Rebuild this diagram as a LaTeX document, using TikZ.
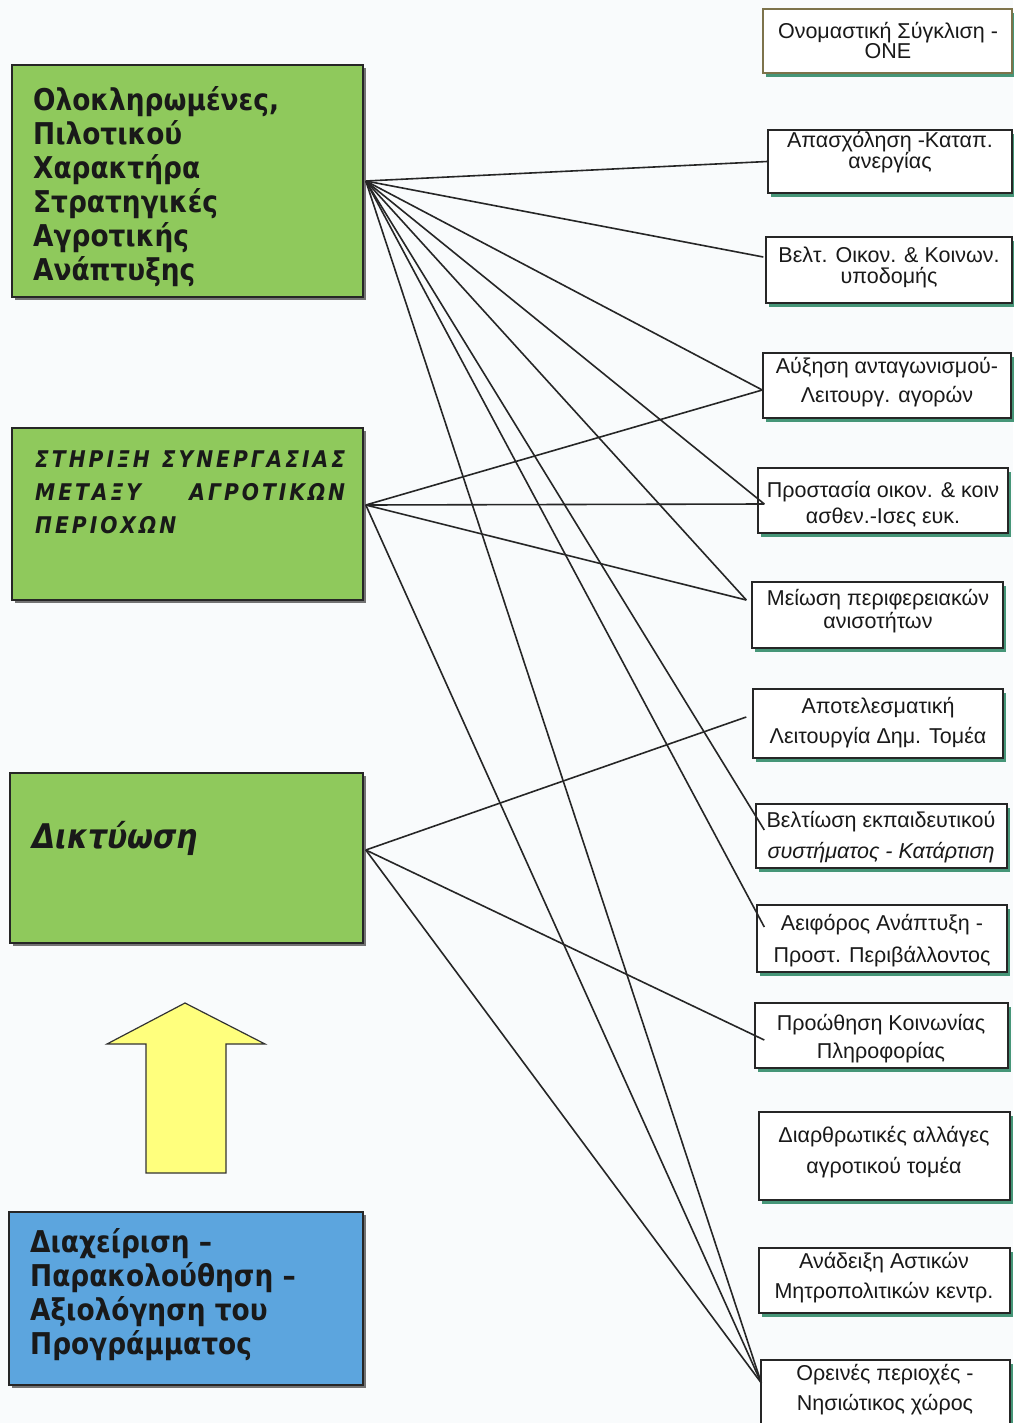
\documentclass[tikz,border=0pt]{standalone}
\usepackage{fontspec}
\setmainfont{Liberation Sans}
\newfontfamily\rfont{Liberation Sans}
\newfontfamily\lfont{DejaVu Sans}[FakeStretch=0.88]
\newfontfamily\lcfont{DejaVu Sans}[FakeStretch=0.88,LetterSpace=13]
\usetikzlibrary{shadows}
\definecolor{bgc}{RGB}{249,251,252}
\definecolor{lgreen}{RGB}{143,201,92}
\definecolor{lblue}{RGB}{92,165,222}
\definecolor{ayellow}{RGB}{255,255,125}
\definecolor{tealsh}{RGB}{70,150,120}
\definecolor{olive}{RGB}{125,115,75}
\tikzset{
  lbox/.style={draw=black!85, line width=1.6pt, fill=lgreen, inner sep=0pt,
    drop shadow={shadow xshift=3pt, shadow yshift=-3pt, fill=black!55, opacity=1}},
  rbox/.style={draw=black!85, line width=1.4pt, fill=white, inner sep=0pt,
    drop shadow={shadow xshift=3pt, shadow yshift=-4pt, fill=tealsh, opacity=1}},
  rtext/.style={font=\rfont\fontsize{21.5}{#1}\selectfont, align=center, inner sep=0pt, anchor=north, text=black!90},
  ltext/.style={font=\lfont\bfseries\fontsize{30}{34}\selectfont, align=left, inner sep=0pt, anchor=north west, text=black!90},
  conn/.style={line width=1.6pt, draw=black!85},
}
\begin{document}
\begin{tikzpicture}[x=1pt,y=-1pt]
\useasboundingbox (0,0) rectangle (1013,1423);
\fill[bgc] (0,0) rectangle (1013,1423);

% left boxes
\node[lbox, minimum width=351pt, minimum height=232pt] (l1) at (187.5,181) {};
\node[lbox, minimum width=351pt, minimum height=172pt] (l2) at (187.5,514) {};
\node[lbox, minimum width=353pt, minimum height=170pt] (l3) at (186.5,858) {};
\node[lbox, fill=lblue, minimum width=354pt, minimum height=173pt] (l4) at (186,1298.5) {};

\node[ltext] (t1) at (33,85) {\rule{0pt}{25pt}Ολοκληρωμένες,\\Πιλοτικού\\Χαρακτήρα\\Στρατηγικές\\Αγροτικής\\Ανάπτυξης};
\node[ltext, font=\lcfont\bfseries\itshape\fontsize{23}{33}\selectfont] (t2) at (35,449)
  {\rule{0pt}{18pt}\makebox[310pt][l]{ΣΤΗΡΙΞΗ\hfill ΣΥΝΕΡΓΑΣΙΑΣ}\\\makebox[310pt][l]{ΜΕΤΑΞΥ\hfill ΑΓΡΟΤΙΚΩΝ}\\ΠΕΡΙΟΧΩΝ};
\node[ltext, font=\lfont\bfseries\itshape\fontsize{34}{40}\selectfont, anchor=base west] (t3) at (32,848) {Δικτύωση};
\node[ltext] (t4) at (30,1227) {\rule{0pt}{25pt}Διαχείριση –\\Παρακολούθηση –\\Αξιολόγηση του\\Προγράμματος};

% yellow arrow
\filldraw[fill=ayellow, draw=black!80, line width=1.2pt, line join=miter]
  (185,1003) -- (265,1044) -- (226,1044) -- (226,1173) -- (146,1173) -- (146,1044) -- (107,1044) -- cycle;

% right boxes
\node[rbox, draw=olive, minimum width=249pt, minimum height=64pt] (r1) at (887.5,41) {};
\node[rbox, minimum width=244pt, minimum height=63pt] (r2) at (890,161.5) {};
\node[rbox, minimum width=246pt, minimum height=66pt] (r3) at (889,270) {};
\node[rbox, minimum width=248pt, minimum height=65pt] (r4) at (887,385.5) {};
\node[rbox, minimum width=250pt, minimum height=65pt] (r5) at (883,500.5) {};
\node[rbox, minimum width=251pt, minimum height=66pt] (r6) at (877.5,615) {};
\node[rbox, minimum width=250pt, minimum height=69pt] (r7) at (878,723.5) {};
\node[rbox, minimum width=251pt, minimum height=64pt] (r8) at (881.5,836) {};
\node[rbox, minimum width=250pt, minimum height=67pt] (r9) at (882,938.5) {};
\node[rbox, minimum width=253pt, minimum height=65pt] (r10) at (881.5,1035.5) {};
\node[rbox, minimum width=251pt, minimum height=88pt] (r11) at (884.5,1156) {};
\node[rbox, minimum width=251pt, minimum height=65pt] (r12) at (884.5,1280.5) {};
\node[rbox, minimum width=249pt, minimum height=80pt] (r13) at (885.5,1400) {};

\node[rtext=16] (s1) at (888,22) {\rule{0pt}{16pt}Ονομαστική Σύγκλιση -\\ΟΝΕ};
\node[rtext=21] (s2) at (890,131) {\rule{0pt}{16pt}Απασχόληση -Καταπ.\\ανεργίας};
\node[rtext=21] (s3) at (889,246) {\rule{0pt}{16pt}Βελτ. Οικον. \& Κοινων.\\υποδομής};
\node[rtext=29] (s4) at (887,357) {\rule{0pt}{16pt}Αύξηση ανταγωνισμού-\\Λειτουργ. αγορών};
\node[rtext=26] (s5) at (883,481) {\rule{0pt}{16pt}Προστασία οικον. \& κοιν\\ασθεν.-Ισες ευκ.};
\node[rtext=23] (s6) at (878,589) {\rule{0pt}{16pt}Μείωση περιφερειακών\\ανισοτήτων};
\node[rtext=30] (s7) at (878,697) {\rule{0pt}{16pt}Αποτελεσματική\\Λειτουργία Δημ. Τομέα};
\node[rtext=31] (s8) at (881,811) {\rule{0pt}{16pt}Βελτίωση εκπαιδευτικού\\\textit{συστήματος - Κατάρτιση}};
\node[rtext=32] (s9) at (882,914) {\rule{0pt}{16pt}Αειφόρος Ανάπτυξη -\\Προστ. Περιβάλλοντος};
\node[rtext=28] (s10) at (881,1014) {\rule{0pt}{16pt}Προώθηση Κοινωνίας\\Πληροφορίας};
\node[rtext=31] (s11) at (884,1126) {\rule{0pt}{16pt}Διαρθρωτικές αλλάγες\\αγροτικού τομέα};
\node[rtext=30] (s12) at (884,1252) {\rule{0pt}{16pt}Ανάδειξη Αστικών\\Μητροπολιτικών κεντρ.};
\node[rtext=30] (s13) at (885,1364) {\rule{0pt}{16pt}Ορεινές περιοχές -\\Νησιώτικος χώρος};

% connectors from l1
\draw[conn] ([xshift=2pt]l1.east) -- (r2.west);
\draw[conn] ([xshift=2pt]l1.east) -- ([xshift=-2pt,yshift=13pt]r3.west);
\draw[conn] ([xshift=2pt]l1.east) -- ([yshift=-4.5pt]r4.west);
\draw[conn] ([xshift=2pt]l1.east) -- ([xshift=7pt,yshift=-3.5pt]r5.west);
\draw[conn] ([xshift=2pt]l1.east) -- ([xshift=-5pt,yshift=15pt]r6.west);
\draw[conn] ([xshift=2pt]l1.east) -- ([xshift=9pt,yshift=6pt]r8.west);
\draw[conn] ([xshift=2pt]l1.east) -- ([xshift=8pt,yshift=11.5pt]r9.west);
\draw[conn] ([xshift=2pt]l1.east) -- ([xshift=1pt,yshift=17pt]r13.west);
% connectors from l2
\draw[conn] ([xshift=2pt,yshift=9pt]l2.east) -- ([yshift=-4.5pt]r4.west);
\draw[conn] ([xshift=2pt,yshift=9pt]l2.east) -- ([xshift=7pt,yshift=-3.5pt]r5.west);
\draw[conn] ([xshift=2pt,yshift=9pt]l2.east) -- ([xshift=-5pt,yshift=15pt]r6.west);
\draw[conn] ([xshift=2pt,yshift=9pt]l2.east) -- ([xshift=1pt,yshift=17pt]r13.west);
% connectors from l3
\draw[conn] ([xshift=2pt,yshift=8pt]l3.east) -- ([xshift=-6pt,yshift=6.5pt]r7.west);
\draw[conn] ([xshift=2pt,yshift=8pt]l3.east) -- ([xshift=10pt,yshift=-4.5pt]r10.west);
\draw[conn] ([xshift=2pt,yshift=8pt]l3.east) -- ([xshift=1pt,yshift=17pt]r13.west);
\end{tikzpicture}
\end{document}
